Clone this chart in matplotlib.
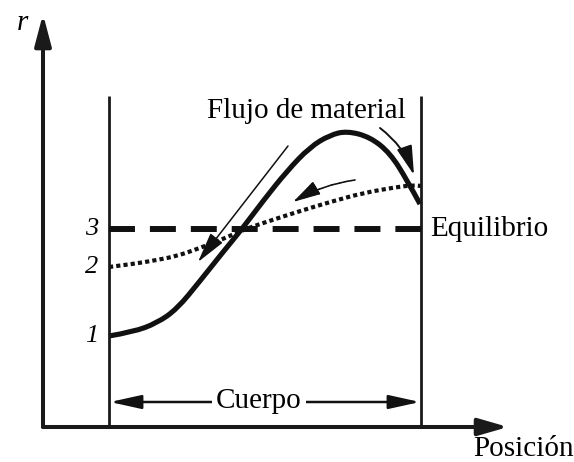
import matplotlib
matplotlib.use("Agg")
import matplotlib.pyplot as plt
from matplotlib.path import Path
from matplotlib.patches import PathPatch, FancyArrowPatch

# ---- data (position, r); origin at axes corner ----
solid_pos = [66, 90, 114, 134, 157, 180, 199, 220, 244, 267, 287, 304, 327, 347, 364, 377]
solid_r = [91, 95, 104, 118, 146, 175, 198, 226, 256, 280, 292, 296, 290, 274, 247, 223]
dotted_pos = [66, 90, 114, 134, 157, 180, 200, 220, 254, 287, 320, 354, 372, 378]
dotted_r = [160, 163, 167, 171, 179, 188, 197, 204, 215, 225, 234, 240, 242, 241]
equilibrium_r = 198
wall_left, wall_right = 66, 378
wall_top = 331
level_labels = ["1", "2", "3"]
level_values = [solid_r[0], dotted_r[0], equilibrium_r]

SERIF = "Liberation Serif"
plt.rcParams["font.family"] = [SERIF, "DejaVu Serif"]

fig = plt.figure(figsize=(5.74, 4.62), dpi=100)
ax = fig.add_axes([0, 0, 1, 1])
ax.set_xlim(-43, 531)
ax.set_ylim(-35, 427)
ax.axis("off")


def smooth_path(xs, ys):
    verts = [(xs[0], ys[0])]
    codes = [Path.MOVETO]
    n = len(xs)
    for i in range(1, n - 1):
        if i == n - 2:
            end = (xs[-1], ys[-1])
        else:
            end = ((xs[i] + xs[i + 1]) / 2, (ys[i] + ys[i + 1]) / 2)
        verts += [(xs[i], ys[i]), end]
        codes += [Path.CURVE3, Path.CURVE3]
    return Path(verts, codes)


# axes with arrows
ax.add_patch(FancyArrowPatch((0, 0), (0, 413), arrowstyle="-|>,head_length=19,head_width=5",
                             lw=2.9, color="#1a1a1a", shrinkA=0, shrinkB=0, mutation_scale=1))
ax.add_patch(FancyArrowPatch((0, 0), (465, 0), arrowstyle="-|>,head_length=18,head_width=5.2",
                             lw=2.9, color="#1a1a1a", shrinkA=0, shrinkB=0, mutation_scale=1))

# body walls
for w in (wall_left, wall_right):
    ax.plot([w, w], [0, wall_top], color="#1a1a1a", lw=2.0, solid_capstyle="butt")

# equilibrium dashed line
ax.plot([wall_left, wall_right], [equilibrium_r, equilibrium_r], color="#111111", lw=4.3,
        linestyle=(0, (4.35, 2.5)), dash_capstyle="butt")

# dotted profile
ax.add_patch(PathPatch(smooth_path(dotted_pos, dotted_r), fill=False, edgecolor="#111111",
                       lw=3.0, linestyle=(0, (1, 0.75)), capstyle="butt"))

# solid profile
ax.add_patch(PathPatch(smooth_path(solid_pos, solid_r), fill=False, edgecolor="#111111",
                       lw=3.7, capstyle="butt", joinstyle="round"))

# material flow arrows
ax.add_patch(FancyArrowPatch((245, 281), (155, 165), arrowstyle="-|>,head_length=19,head_width=4.8",
                             lw=1.1, color="#111111", shrinkA=0, shrinkB=0, mutation_scale=1))
ax.add_patch(FancyArrowPatch((337, 299), (371, 252), arrowstyle="-|>,head_length=18,head_width=4.8",
                             connectionstyle="arc3,rad=-0.15",
                             lw=1.4, color="#111111", shrinkA=0, shrinkB=0, mutation_scale=1))
ax.add_patch(FancyArrowPatch((312, 247), (250, 225), arrowstyle="-|>,head_length=17,head_width=4.5",
                             connectionstyle="arc3,rad=0.1", linestyle=(0, (1, 0.6)),
                             lw=1.2, color="#111111", shrinkA=0, shrinkB=0, mutation_scale=1))

# body span arrow
ax.add_patch(FancyArrowPatch((wall_left + 1, 25), (wall_right - 1, 25),
                             arrowstyle="<|-|>,head_length=19,head_width=4.2",
                             lw=1.8, color="#111111", shrinkA=0, shrinkB=0, mutation_scale=1))
ax.text(216, 19, "Cuerpo", fontsize=21, ha="center", va="baseline", family=SERIF,
        bbox=dict(boxstyle="square,pad=0.15", fc="white", ec="none"))

# texts
ax.text(263, 309, "Flujo de material", fontsize=21, ha="center", va="baseline", family=SERIF)
ax.text(387, 191, "Equilibrio", fontsize=21, ha="left", va="baseline", family=SERIF)
ax.text(430, -29, "Posición", fontsize=21, ha="left", va="baseline", family=SERIF)
ax.text(-21, 397, "r", fontsize=21, ha="center", va="baseline", family=SERIF, style="italic")
for lab, val in zip(level_labels, level_values):
    ax.text(49, val, lab, fontsize=19, ha="center", va="center", family=SERIF, style="italic")

fig.savefig("out.png", dpi=100, facecolor="white")
